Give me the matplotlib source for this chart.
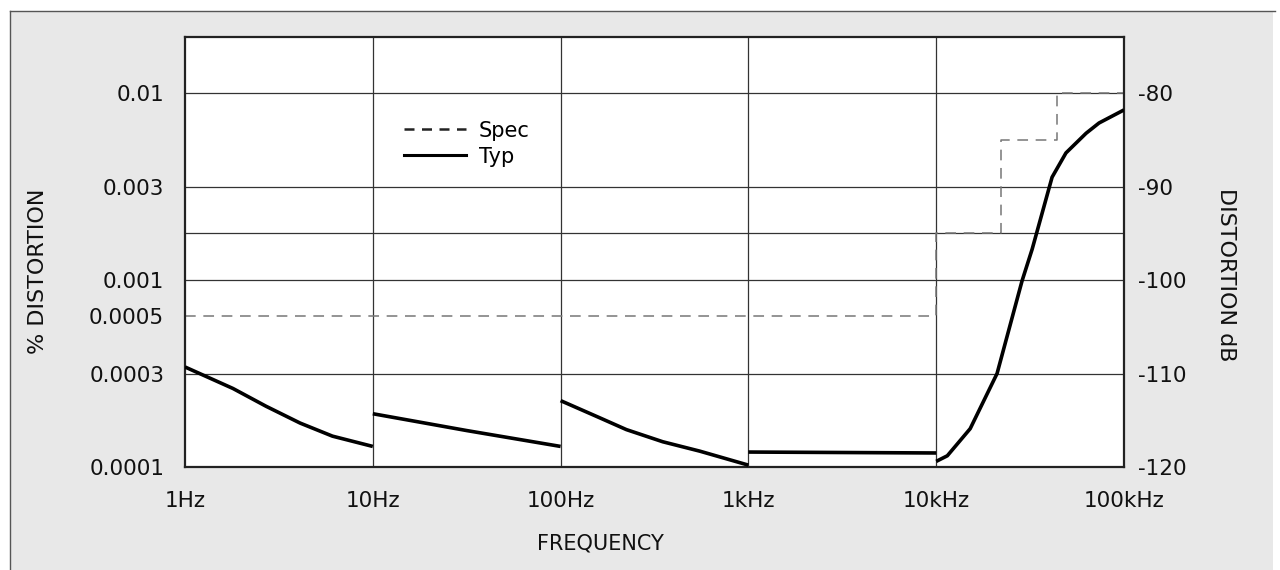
import matplotlib
matplotlib.use('Agg')
import matplotlib.pyplot as plt
from matplotlib.lines import Line2D
from matplotlib.patches import Rectangle

plt.rcParams['font.family'] = ['DejaVu Sans']

# typical distortion, one segment per decade (Hz, dB)
seg1_f = [1, 1.8, 2.7, 4.1, 6.1, 10]
seg1_db = [-109.3, -111.6, -113.5, -115.3, -116.7, -117.8]
seg2_f = [10, 31.6, 100]
seg2_db = [-114.3, -116.1, -117.8]
seg3_f = [100, 160, 224, 350, 550, 1000]
seg3_db = [-112.9, -114.7, -116.0, -117.3, -118.3, -119.8]
seg4_f = [1000, 10000]
seg4_db = [-118.4, -118.5]
seg5_f = [10000, 11460, 15170, 21090, 28640, 32430, 41400, 49090, 62810, 73620, 100000]
seg5_db = [-119.4, -118.8, -115.9, -110.0, -100.1, -96.7, -89.0, -86.4, -84.3, -83.2, -81.8]
typ_segments = [(seg1_f, seg1_db), (seg2_f, seg2_db), (seg3_f, seg3_db),
                (seg4_f, seg4_db), (seg5_f, seg5_db)]

# spec limit (steps)
spec_f = [1, 10000, 22000, 44000, 100000]
spec_db = [-103.8, -95, -85, -80, -80]

freq_ticks = [1, 10, 100, 1000, 10000, 100000]
freq_labels = ['1Hz', '10Hz', '100Hz', '1kHz', '10kHz', '100kHz']
pct_ticks_db = [-80, -90, -100, -103.8, -110, -120]
pct_labels = ['0.01', '0.003', '0.001', '0.0005', '0.0003', '0.0001']
db_ticks = [-80, -90, -100, -110, -120]
db_labels = ['-80', '-90', '-100', '-110', '-120']
grid_db = [-80, -90, -95, -100, -110]

W, H = 1280, 570
fig = plt.figure(figsize=(W / 100, H / 100), dpi=100)
fig.patch.set_facecolor('white')

# gray card background with top/left border
fig.patches.append(Rectangle((10 / W, 0), 1263 / W, 1 - 11 / H, transform=fig.transFigure,
                             facecolor='#e8e8e8', edgecolor='none', zorder=-10))
fig.lines.append(Line2D([10 / W, 1275 / W], [1 - 11 / H, 1 - 11 / H], transform=fig.transFigure,
                        color='#555555', lw=1))
fig.lines.append(Line2D([10 / W, 10 / W], [0, 1 - 11 / H], transform=fig.transFigure,
                        color='#555555', lw=1))

ax = fig.add_axes([185 / W, 1 - 467 / H, 939 / W, 430 / H])
ax.set_facecolor('white')
ax.set_xscale('log')
ax.set_xlim(1, 100000)
ax.set_ylim(-120, -74)

for y in grid_db:
    ax.axhline(y, color='#333333', lw=0.9, zorder=1)
for x in freq_ticks[1:-1]:
    ax.axvline(x, color='#333333', lw=0.9, zorder=1)

ax.plot(spec_f, spec_db, drawstyle='steps-post', color='#777777', lw=1.1,
        dashes=(7, 5), zorder=2)
for f, d in typ_segments:
    ax.plot(f, d, color='black', lw=2.6, solid_capstyle='butt', zorder=3)

ax.set_xticks(freq_ticks)
ax.set_xticklabels(freq_labels)
ax.minorticks_off()
ax.set_yticks(pct_ticks_db)
ax.set_yticklabels(pct_labels)
ax.tick_params(length=0, labelsize=15.5, colors='#111111')
ax.tick_params(axis='x', pad=17)
ax.tick_params(axis='y', pad=15)
for s in ax.spines.values():
    s.set_linewidth(1.6)
    s.set_color('#222222')

ax2 = ax.twinx()
ax2.set_ylim(ax.get_ylim())
ax2.set_yticks(db_ticks)
ax2.set_yticklabels(db_labels)
ax2.tick_params(length=0, labelsize=15.5, colors='#111111', pad=10)
for s in ax2.spines.values():
    s.set_visible(False)

handles = [Line2D([], [], color='#222222', lw=1.8, dashes=(4, 3)),
           Line2D([], [], color='black', lw=2.2)]
ax.legend(handles, ['Spec', 'Typ'], loc='upper left', bbox_to_anchor=(0.222, 0.83),
          frameon=False, fontsize=15, handlelength=3.0, handletextpad=0.6,
          labelspacing=0.3, borderpad=0)

fig.text(38 / W, 1 - 271 / H, '% DISTORTION', rotation=90, ha='center', va='center',
         fontsize=16, color='#111111')
fig.text(1226 / W, 1 - 275 / H, 'DISTORTION dB', rotation=-90, ha='center', va='center',
         fontsize=16, color='#111111')
fig.text(600 / W, 1 - 543 / H, 'FREQUENCY', ha='center', va='center',
         fontsize=15, color='#111111')

fig.savefig('out.png', dpi=100)
